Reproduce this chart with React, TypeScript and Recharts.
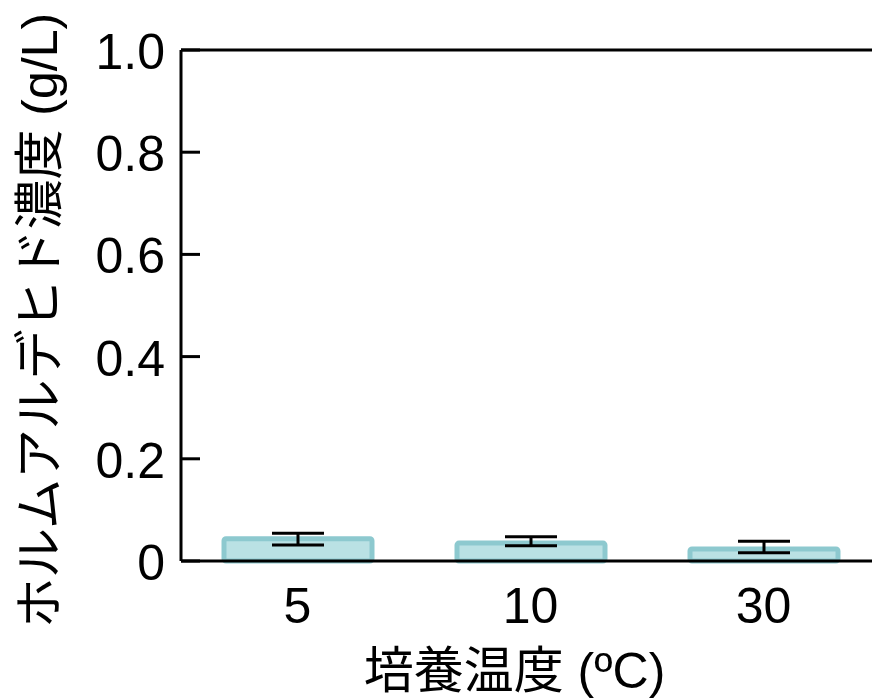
import React from "react";
import {
  BarChart,
  Bar,
  XAxis,
  YAxis,
  ErrorBar,
  ReferenceLine,
  Label,
} from "recharts";

// culture temperature (ºC)
const temps = ["5", "10", "30"];
// formaldehyde concentration (g/L)
const means = [0.0435, 0.035, 0.0235];
// error bar offsets below / above the mean
const errLow = [0.012, 0.005, 0.0075];
const errHigh = [0.011, 0.0125, 0.015];
const yTicks = [0, 0.2, 0.4, 0.6, 0.8, 1.0];

const data = temps.map((t, i) => ({
  temp: t,
  value: means[i],
  err: [errLow[i], errHigh[i]],
}));

const FONT = "'Liberation Sans', Arial, 'Noto Sans CJK JP', sans-serif";
const FS = 50;

const fmt = (v: number) => (v === 0 ? "0" : v.toFixed(1));

const YTick = (props: any) => {
  const { x, y, payload } = props;
  return (
    <g>
      <line x1={x + 16} x2={x + 35} y1={y} y2={y} stroke="#000" strokeWidth={3} />
      <text
        x={x}
        y={y + 2}
        textAnchor="end"
        dominantBaseline="central"
        fontSize={FS}
        fontFamily={FONT}
        fill="#000"
      >
        {fmt(payload.value)}
      </text>
    </g>
  );
};

const YTitle = (props: any) => {
  const vb = props.viewBox;
  const cx = vb.x + 40;
  const cy = vb.y + vb.height / 2 + 15;
  return (
    <text
      x={cx}
      y={cy}
      transform={`rotate(-90 ${cx} ${cy})`}
      textAnchor="middle"
      dominantBaseline="central"
      fontSize={FS}
      fontFamily={FONT}
      fill="#000"
    >
      ホルムアルデヒド濃度 (g/L)
    </text>
  );
};

const XTitle = (props: any) => {
  const vb = props.viewBox;
  const cx = vb.x + vb.width / 2 - 16;
  return (
    <text
      x={cx}
      y={vb.y + 127}
      textAnchor="middle"
      fontSize={FS}
      fontFamily={FONT}
      fill="#000"
    >
      培養温度 (ºC)
    </text>
  );
};

export default function App() {
  return (
    <div
      style={{
        position: "absolute",
        left: 0,
        top: 0,
        width: 872,
        height: 699,
        overflow: "hidden",
        background: "#fff",
      }}
    >
      <BarChart
        width={900}
        height={699}
        data={data}
        margin={{ top: 50, right: 20, left: 0, bottom: 0 }}
      >
        <XAxis
          dataKey="temp"
          height={138}
          tickLine={false}
          tickSize={0}
          tickMargin={26}
          axisLine={{ stroke: "#000", strokeWidth: 3 }}
          tick={{ fontSize: FS, fill: "#000", fontFamily: FONT }}
        >
          <Label content={<XTitle />} />
        </XAxis>
        <YAxis
          width={181}
          domain={[0, 1]}
          ticks={yTicks}
          interval={0}
          tickLine={false}
          tickSize={0}
          tickMargin={16}
          axisLine={{ stroke: "#000", strokeWidth: 3 }}
          tick={<YTick />}
        >
          <Label content={<YTitle />} />
        </YAxis>
        <ReferenceLine y={1} stroke="#000" strokeWidth={3} />
        <Bar
          dataKey="value"
          barSize={148}
          fill="#bae1e4"
          stroke="#8dc9cf"
          strokeWidth={5}
          radius={2}
          isAnimationActive={false}
        >
          <ErrorBar
            dataKey="err"
            width={26}
            stroke="#000"
            strokeWidth={3}
            isAnimationActive={false}
          />
        </Bar>
      </BarChart>
    </div>
  );
}
